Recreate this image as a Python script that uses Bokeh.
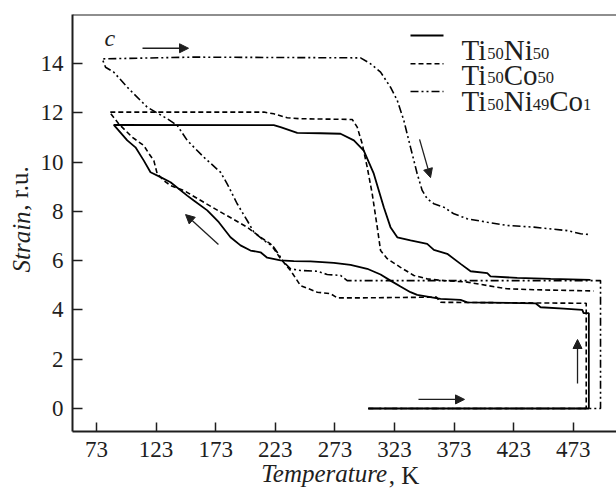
from math import pi
from bokeh.plotting import figure
from bokeh.models import Range1d, FixedTicker, Label, Arrow, NormalHead, Span, LinearAxis
from bokeh.embed import file_html
from bokeh.resources import INLINE

# ---------------- data ----------------
x_ticks = [73, 123, 173, 223, 273, 323, 373, 423, 473]
y_ticks = [0, 2, 4, 6, 8, 10, 12, 14]

ni50_T = [301, 486, 486, 481.6, 480.5, 465, 445.5, 441.3, 384, 378.4, 361.6, 342, 336.4, 328,
          319.6, 311.3, 300.1, 286.1, 272.1, 252.5, 238.5, 227.4, 216.2, 210.6, 202.2, 193.8,
          185.4, 175.6, 165.9, 154.6, 149.1, 135.1, 126.7, 118.3, 112.7, 105.7, 98.8, 87.5,
          221.7, 227.4, 241.4, 260.9, 277.7, 288.9, 297.2, 305.6, 314, 319.6, 325.3, 336.4,
          350.4, 356, 367.2, 378.4, 386.8, 400.8, 403.5, 425.9, 454, 487.4]
ni50_S = [0, 0, 3.87, 3.87, 4.0, 4.05, 4.11, 4.27, 4.31, 4.41, 4.45, 4.61, 4.72, 4.95,
          5.19, 5.44, 5.67, 5.83, 5.91, 5.97, 5.98, 6.01, 6.12, 6.34, 6.41, 6.62,
          6.95, 7.56, 8.04, 8.44, 8.64, 9.18, 9.39, 9.59, 10.06, 10.6, 10.88, 11.51,
          11.5, 11.42, 11.19, 11.17, 11.15, 10.88, 10.47, 9.53, 8.17, 7.36, 6.95, 6.82,
          6.68, 6.44, 6.28, 5.87, 5.57, 5.49, 5.36, 5.3, 5.26, 5.22]

co50_T = [301, 483.8, 483.8, 361.6, 358.2, 294.5, 274.9, 269.3, 258.2, 244.1, 235.8, 227.4,
          219, 210.6, 199.4, 179.8, 163, 146.2, 135.1, 129.5, 123.9, 121.1, 116.9, 112.7,
          103, 91.7, 83.9, 213.4, 221.7, 233, 244.1, 287.5, 291.7, 295.9, 300.1, 304.3,
          308.5, 311.3, 316.9, 328, 339.2, 350.4, 364.4, 384, 400.8, 417.5, 439.9, 490]
co50_S = [0, 0, 4.27, 4.31, 4.52, 4.49, 4.49, 4.66, 4.72, 4.99, 5.6, 6.08,
          6.68, 6.95, 7.36, 7.9, 8.37, 8.85, 9.05, 9.25, 9.53, 10.06, 10.35, 10.67,
          11.01, 11.55, 12.03, 12.03, 11.96, 11.8, 11.76, 11.73, 11.42, 10.74, 9.79, 8.71,
          7.36, 6.41, 6.08, 5.73, 5.4, 5.26, 5.19, 5.13, 4.99, 4.86, 4.82, 4.77]

ni49co1_T = [301, 495.8, 495.8, 283.3, 277.7, 266.5, 258.2, 244.1, 235.8, 230.1, 221.7, 213.4,
             205, 199.4, 191, 182.6, 177, 163, 149.1, 140.7, 132.3, 115.5, 98.8, 87.5, 80.6,
             77.8, 154.6, 294.5, 302.9, 311.3, 319.6, 325.3, 330.8, 336.4, 342, 346.2, 350.4,
             356, 364.4, 372.8, 384, 400.8, 417.5, 439.9, 467.9, 479.1, 487.4]
ni49co1_S = [0, 0, 5.19, 5.19, 5.4, 5.44, 5.57, 5.6, 5.67, 5.94, 6.55, 6.82,
             7.16, 7.63, 8.31, 9.12, 9.59, 10.2, 10.88, 11.49, 11.76, 12.23, 13.04, 13.65, 13.85,
             14.19, 14.26, 14.23, 13.99, 13.65, 13.04, 12.5, 11.69, 10.6, 9.53, 8.85, 8.51,
             8.31, 8.17, 7.9, 7.7, 7.56, 7.43, 7.36, 7.22, 7.09, 7.06]

# direction arrows (tail T, tail S, head T, head S)
arrows = [(111.6, 14.62, 150.2, 14.62),
          (175.3, 6.66, 147.7, 7.87),
          (344.0, 10.92, 353.2, 9.37),
          (476.5, 1.01, 476.5, 2.80),
          (343.1, 0.37, 381.7, 0.37)]

# axis titles: (text, centre position along the axis, italic?)
x_title = [("Temperature", 264.0, True), (", K", 331.0, False)]
y_title = [("Strain", 6.76, True), (", r.u.", 8.93, False)]

# ---------------- layout ----------------
W, H = 616, 491
X0, X1 = 52.87, 509.2
Y0, Y1 = -0.933, 15.99
FL, FR, FT, FB = 72, 616, 14, 431      # frame edges in page pixels


def px2x(px):
    return X0 + (px - FL) * (X1 - X0) / (FR - FL)


def py2y(py):
    return Y1 - (py - FT) * (Y1 - Y0) / (FB - FT)


SERIF = "Liberation Serif"
INK = "#1e1e1e"
DASHED = "5 3"
DASHDOT = "8 3 2 3 2 3"

p = figure(width=W, height=H, output_backend="svg", toolbar_location=None,
           x_range=Range1d(X0, X1), y_range=Range1d(Y0, Y1),
           min_border_left=FL, min_border_right=W - FR, min_border_top=FT,
           min_border_bottom=H - FB)
p.outline_line_color = None
p.xgrid.visible = False
p.ygrid.visible = False
p.background_fill_color = "white"
p.border_fill_color = "white"

for ax in (p.xaxis[0], p.yaxis[0]):
    ax.axis_line_width = 2
    ax.axis_line_color = INK
    ax.major_tick_line_color = INK
    ax.major_tick_line_width = 1.5
    ax.major_tick_out = 0
    ax.minor_tick_line_color = None
    ax.major_label_text_font = SERIF
    ax.major_label_text_font_size = "23px"
    ax.major_label_text_color = INK
p.xaxis.ticker = FixedTicker(ticks=x_ticks)
p.yaxis.ticker = FixedTicker(ticks=y_ticks)
p.xaxis.major_tick_in = 9
p.yaxis.major_tick_in = 10
p.xaxis.major_label_standoff = 10
p.yaxis.major_label_standoff = 9


def title_axis(text, pos, italic, standoff, orientation):
    return LinearAxis(ticker=FixedTicker(ticks=[pos]), major_label_overrides={pos: text},
                      axis_line_color=None, major_tick_line_color=None,
                      minor_tick_line_color=None, major_tick_in=0, major_tick_out=0,
                      minor_tick_in=0, minor_tick_out=0,
                      major_label_text_font=SERIF, major_label_text_font_size="25px",
                      major_label_text_color=INK,
                      major_label_text_font_style="italic" if italic else "normal",
                      major_label_standoff=standoff, major_label_orientation=orientation)


# x title: first part in its own panel, second overlapped onto the same row
p.add_layout(title_axis(*x_title[0], 0, "horizontal"), "below")
p.add_layout(title_axis(*x_title[1], -28, "horizontal"), "below")
# y title
p.add_layout(title_axis(*y_title[0], 2, "vertical"), "left")
p.add_layout(title_axis(*y_title[1], -28, "vertical"), "left")

p.add_layout(Span(location=Y1, dimension="width", line_color=INK, line_width=2))

# curves
p.line(ni50_T, ni50_S, line_color="black", line_width=1.8)
p.line(co50_T, co50_S, line_color="black", line_width=1.6, line_dash=DASHED)
p.line(ni49co1_T, ni49co1_S, line_color="black", line_width=1.6, line_dash=DASHDOT)

for (tx, ty, hx, hy) in arrows:
    p.add_layout(Arrow(x_start=tx, y_start=ty, x_end=hx, y_end=hy, line_width=1.3,
                       line_color=INK,
                       end=NormalHead(size=9, fill_color=INK, line_color=INK, line_width=1)))

# legend
legend_rows = [
    (None, 35, 49.5, [("Ti", 0), ("50", 1), ("Ni", 0), ("50", 1)]),
    (DASHED, 63.3, 74.0, [("Ti", 0), ("50", 1), ("Co", 0), ("50", 1)]),
    (DASHDOT, 91, 100.5,
     [("Ti", 0), ("50", 1), ("Ni", 0), ("49", 1), ("Co", 0), ("1", 1)]),
]
MAIN, SUB = 29, 16.5
adv = {"T": 0.611, "i": 0.278, "N": 0.722, "C": 0.667, "o": 0.5}
for dash, ly, base, parts in legend_rows:
    kw = {} if dash is None else {"line_dash": dash}
    p.line([px2x(410), px2x(443)], [py2y(ly)] * 2, line_color="black",
           line_width=1.8 if dash is None else 1.6, **kw)
    cx = 461.0
    for txt, sub in parts:
        size = SUB if sub else MAIN
        yb = base + 3.4 if sub else base
        p.add_layout(Label(x=px2x(cx), y=py2y(yb), text=txt, text_font=SERIF,
                           text_font_size=f"{size}px", text_color=INK,
                           text_baseline="alphabetic", text_align="left"))
        if sub:
            cx += 0.5 * size * len(txt)
        else:
            cx += sum(adv[c] for c in txt) * size

# panel letter
p.add_layout(Label(x=px2x(104), y=py2y(37.5), text="c", text_font=SERIF,
                   text_font_style="italic", text_font_size="24px", text_color=INK,
                   text_baseline="alphabetic"))

open("out.html", "w").write(file_html(p, INLINE))
